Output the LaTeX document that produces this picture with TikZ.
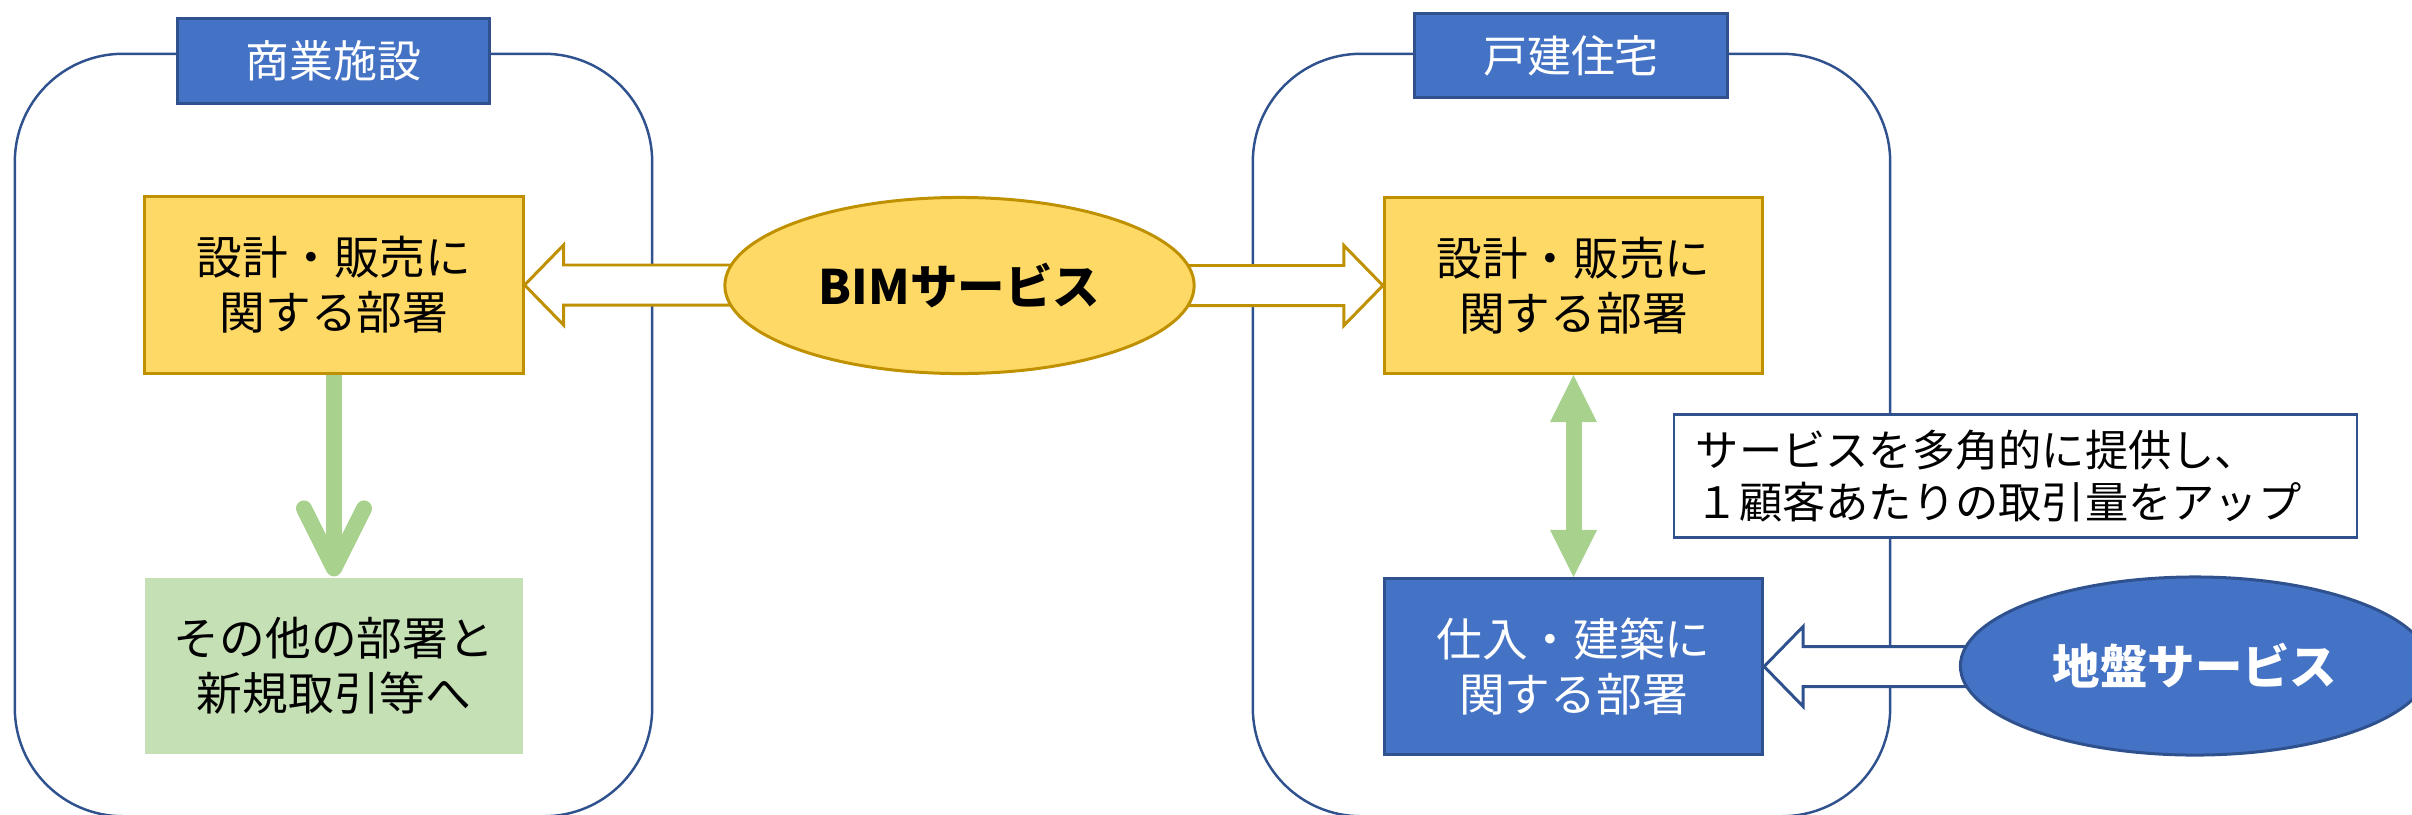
\documentclass[tikz,border=0pt]{standalone}
\usepackage{fontspec}
\setmainfont{Noto Sans CJK JP}
\usepackage{tikz}
\usetikzlibrary{arrows.meta,shapes.geometric,calc,positioning}

\definecolor{bluefill}{HTML}{4472C4}
\definecolor{blueline}{HTML}{2F528F}
\definecolor{yelfill}{HTML}{FFD966}
\definecolor{yelline}{HTML}{BF9000}
\definecolor{grnfill}{HTML}{C5E0B4}
\definecolor{grnline}{HTML}{A9D18E}

\pgfdeclarelayer{back}
\pgfdeclarelayer{mid}
\pgfsetlayers{back,mid,main}

% hollow block arrow: #1 tail, #2 tip, #3 outline colour
\newcommand{\blockarrow}[3]{%
  \draw[draw=#3, fill=white, line width=0.85pt, line join=miter]
    let \p1=(#1), \p2=(#2), \n1={ifthenelse(\x2>\x1,1,-1)} in
    (\x1,\y2+0.2cm) -- (\x2-\n1*0.39cm,\y2+0.2cm) -- (\x2-\n1*0.39cm,\y2+0.4cm)
    -- (\x2,\y2) -- (\x2-\n1*0.39cm,\y2-0.4cm) -- (\x2-\n1*0.39cm,\y2-0.2cm)
    -- (\x1,\y2-0.2cm) -- cycle;}

\tikzset{
  areabox/.style={draw=blueline, line width=0.7pt, rounded corners=1.08cm,
    minimum width=6.37cm, minimum height=7.62cm},
  headbox/.style={draw=blueline, fill=bluefill, line width=0.85pt, text=white,
    minimum width=3.12cm, minimum height=0.84cm,
    font=\fontsize{12.5pt}{15pt}\selectfont},
  deptbox/.style={draw=yelline, fill=yelfill, line width=0.85pt,
    minimum width=3.78cm, minimum height=1.76cm, align=center,
    font=\fontsize{13pt}{15.6pt}\selectfont},
  otherbox/.style={deptbox, draw=none, fill=grnfill},
  buildbox/.style={deptbox, draw=blueline, fill=bluefill, text=white},
  service/.style={ellipse, draw=yelline, fill=yelfill, line width=0.85pt,
    inner sep=0pt, minimum width=4.69cm, minimum height=1.76cm,
    font=\fontsize{13.5pt}{16pt}\selectfont\bfseries},
  notebox/.style={draw=blueline, fill=white, line width=0.7pt, align=left,
    text width=6.39cm, inner xsep=0.22cm, minimum height=1.23cm,
    font=\fontsize{12.3pt}{14.8pt}\selectfont},
  greenline/.style={draw=grnline, line width=0.16cm}
}

\begin{document}
\begin{tikzpicture}[x=0.01cm, y=-0.01cm]
\useasboundingbox (0,0) rectangle (2412,814);

% Nodes
\node[headbox] (comhead) at (333.5,61) {商業施設};
\node[deptbox] (comdesign) at (334,285) {設計・販売に\\関する部署};
\node[otherbox] (comother) at (334,666) {その他の部署と\\新規取引等へ};
\node[service] (bim) at (959.5,285.5) {BIMサービス};

\node[headbox] (homehead) at (1571,55.5) {戸建住宅};
\node[deptbox] (homedesign) at (1573.5,285.5) {設計・販売に\\関する部署};
\node[buildbox] (homebuild) at (1573.5,666.5) {仕入・建築に\\関する部署};
\node[service, draw=blueline, fill=bluefill, text=white, minimum height=1.78cm] (ground) at (2195,666) {地盤サービス};
\node[notebox] (note) at (2015.5,476) {サービスを多角的に提供し、\\１顧客あたりの取引量をアップ};

\begin{pgfonlayer}{back}
  \node[areabox] (comarea) at (333.5,435) {};
  \node[areabox] (homearea) at (1571.5,435) {};
\end{pgfonlayer}

\begin{pgfonlayer}{mid}
  \blockarrow{$(bim.west)+(25,0)$}{comdesign.east}{yelline}
  \blockarrow{$(bim.east)+(-25,0)$}{homedesign.west}{yelline}
  \blockarrow{$(ground.west)+(25,0)$}{homebuild.east}{blueline}
\end{pgfonlayer}

\draw[greenline, -{Straight Barb[round, length=0.6cm, width=0.6cm]}] (comdesign.south) -- (comother.north);
\draw[greenline, {Triangle[length=0.47cm, width=0.47cm, line width=0pt]}-{Triangle[length=0.47cm, width=0.47cm, line width=0pt]}] (homedesign.south) -- (homebuild.north);
\end{tikzpicture}
\end{document}
